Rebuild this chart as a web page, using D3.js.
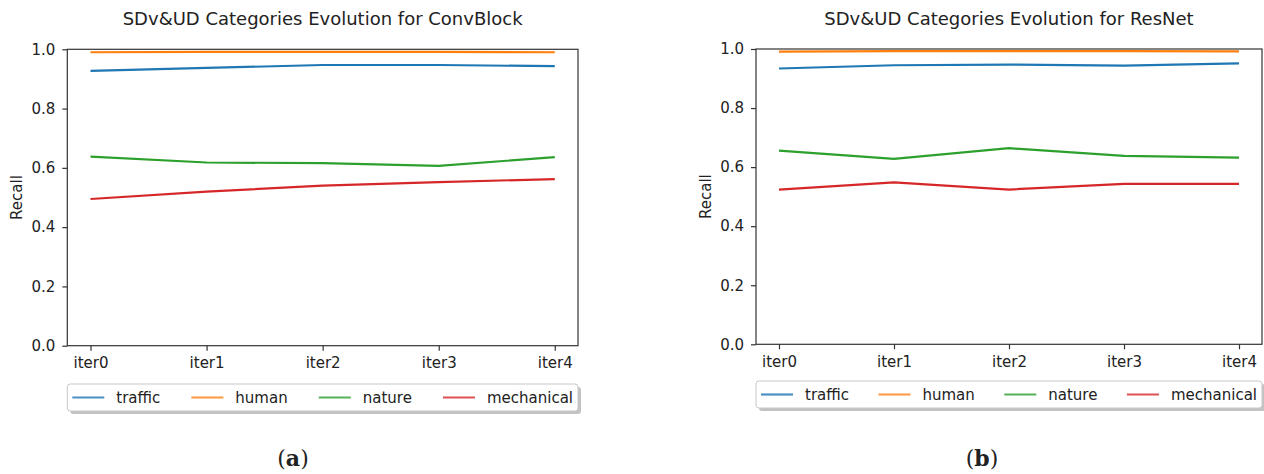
<!DOCTYPE html>
<html>
<head>
<meta charset="utf-8">
<script src="https://cdn.jsdelivr.net/npm/d3@7"></script>
<style>
  body { margin: 0; background: #fff; }
  svg text { font-family: "DejaVu Sans", sans-serif; fill: #222; }
</style>
</head>
<body>
<div id="chart"></div>
<script>
const iterations = ["iter0", "iter1", "iter2", "iter3", "iter4"];
const categories = ["traffic", "human", "nature", "mechanical"];
const yTicks = [0.0, 0.2, 0.4, 0.6, 0.8, 1.0];

// ConvBlock
const convTraffic = [0.927, 0.937, 0.947, 0.947, 0.943];
const convHuman = [0.990, 0.991, 0.991, 0.991, 0.990];
const convNature = [0.638, 0.618, 0.616, 0.607, 0.636];
const convMechanical = [0.495, 0.520, 0.540, 0.552, 0.562];

// ResNet
const resTraffic = [0.934, 0.945, 0.947, 0.944, 0.951];
const resHuman = [0.991, 0.993, 0.993, 0.993, 0.992];
const resNature = [0.656, 0.628, 0.664, 0.638, 0.632];
const resMechanical = [0.524, 0.548, 0.524, 0.543, 0.543];

const colors = ["#1f77b4", "#ff7f0e", "#2ca02c", "#d62728"];

const svg = d3.select("#chart")
    .append("svg")
    .attr("width", 1264)
    .attr("height", 474);

function drawPanel(opts) {
    const { left, right, top, bottom, title, series, caption, legendTop } = opts;

    const x = d3.scaleLinear()
        .domain([-0.2, iterations.length - 1 + 0.2])
        .range([left, right]);
    const y = d3.scaleLinear().domain([0, 1]).range([bottom, top]);

    const g = svg.append("g");

    // lines
    const line = d3.line()
        .x((d, i) => x(i))
        .y(d => y(d));

    series.forEach((s, k) => {
        g.append("path")
            .datum(s)
            .attr("fill", "none")
            .attr("stroke", colors[k])
            .attr("stroke-width", 2.2)
            .attr("d", line);
    });

    // frame
    g.append("rect")
        .attr("x", left)
        .attr("y", top)
        .attr("width", right - left)
        .attr("height", bottom - top)
        .attr("fill", "none")
        .attr("stroke", "#333")
        .attr("stroke-width", 1.2);

    // axes
    const yAxis = g.append("g")
        .attr("transform", `translate(${left},0)`)
        .call(d3.axisLeft(y).tickValues(yTicks).tickFormat(d3.format(".1f")).tickSize(5).tickPadding(7));
    const xAxis = g.append("g")
        .attr("transform", `translate(0,${bottom})`)
        .call(d3.axisBottom(x).tickValues(d3.range(iterations.length))
            .tickFormat(i => iterations[i]).tickSize(5).tickPadding(7));

    [yAxis, xAxis].forEach(a => {
        a.select(".domain").remove();
        a.selectAll(".tick line").attr("stroke", "#333").attr("stroke-width", 1.2);
        a.selectAll(".tick text")
            .style("font-family", "DejaVu Sans")
            .style("font-size", "15px")
            .attr("fill", "#222");
    });

    // title
    g.append("text")
        .attr("x", (left + right) / 2)
        .attr("y", 25)
        .attr("text-anchor", "middle")
        .style("font-size", "18px")
        .text(title);

    // y label
    g.append("text")
        .attr("transform", `translate(${left - 45},${(top + bottom) / 2}) rotate(-90)`)
        .attr("text-anchor", "middle")
        .style("font-size", "15px")
        .text("Recall");

    // legend (expand mode)
    const legW = right - left;
    const legH = 27;
    const leg = g.append("g").attr("transform", `translate(${left},${legendTop})`);
    leg.append("rect")
        .attr("x", 3).attr("y", 3)
        .attr("width", legW).attr("height", legH)
        .attr("rx", 3)
        .attr("fill", "#888").attr("opacity", 0.5);
    leg.append("rect")
        .attr("width", legW).attr("height", legH)
        .attr("rx", 3)
        .attr("fill", "#fff").attr("stroke", "#c8c8c8");

    const handle = 32, textPad = 12, pad = 5;
    const items = leg.selectAll(".item")
        .data(categories)
        .enter()
        .append("g")
        .attr("class", "item");
    items.append("text")
        .attr("x", handle + textPad)
        .attr("y", legH / 2)
        .attr("dy", "0.35em")
        .style("font-size", "15px")
        .text(d => d);
    const widths = [];
    items.each(function() {
        widths.push(handle + textPad + d3.select(this).select("text").node().getComputedTextLength());
    });
    const gap = (legW - 2 * pad - d3.sum(widths)) / (categories.length - 1);
    let cx = pad;
    items.attr("transform", (d, i) => {
        const t = `translate(${cx},0)`;
        cx += widths[i] + gap;
        return t;
    });
    items.append("line")
        .attr("x1", 0).attr("x2", handle)
        .attr("y1", legH / 2).attr("y2", legH / 2)
        .attr("stroke", (d, i) => colors[i])
        .attr("stroke-width", 2.2)
        .attr("opacity", 0.8);

    // caption
    const cap = svg.append("text")
        .attr("x", opts.captionX)
        .attr("y", 466)
        .attr("text-anchor", "middle")
        .style("font-family", "DejaVu Serif, Liberation Serif, serif")
        .style("font-size", "22px")
        .attr("fill", "#000");
    cap.append("tspan").text("(");
    cap.append("tspan").style("font-weight", "bold").text(caption);
    cap.append("tspan").text(")");
}

drawPanel({
    left: 67.3, right: 578, top: 49.3, bottom: 345.7,
    title: "SDv&UD Categories Evolution for ConvBlock",
    series: [convTraffic, convHuman, convNature, convMechanical],
    caption: "a", captionX: 293, legendTop: 384
});

drawPanel({
    left: 756, right: 1262, top: 49, bottom: 344.3,
    title: "SDv&UD Categories Evolution for ResNet",
    series: [resTraffic, resHuman, resNature, resMechanical],
    caption: "b", captionX: 982, legendTop: 381
});
</script>
</body>
</html>
